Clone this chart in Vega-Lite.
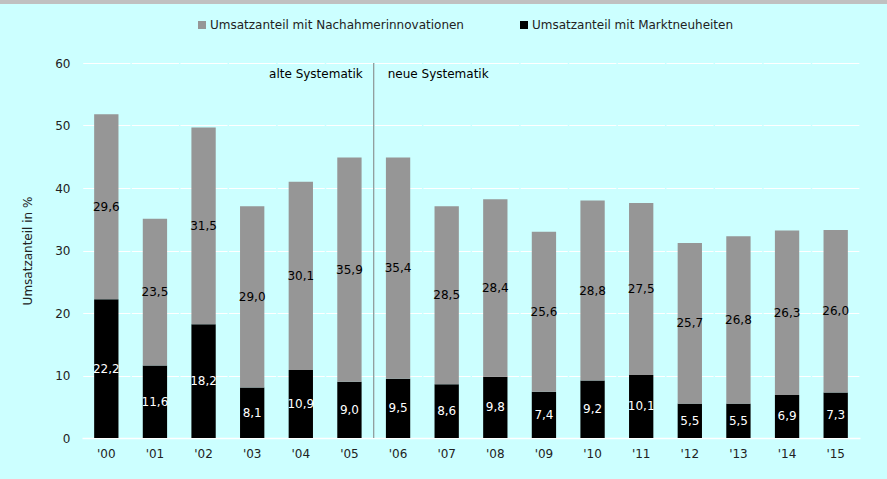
{
  "$schema": "https://vega.github.io/schema/vega-lite/v6.json",
  "width": 778,
  "height": 375,
  "autosize": {"type": "none"},
  "padding": {"left": 82, "top": 63, "right": 27, "bottom": 41},
  "background": "#ccffff",
  "config": {
    "view": {"stroke": null},
    "font": "DejaVu Sans",
    "locale": {"number": {"decimal": ",", "thousands": ".", "grouping": [3], "currency": ["", " €"]}}
  },
  "datasets": {
    "shares": [
      {"year": "'00", "type": "Umsatzanteil mit Marktneuheiten", "value": 22.2},
      {"year": "'00", "type": "Umsatzanteil mit Nachahmerinnovationen", "value": 29.6},
      {"year": "'01", "type": "Umsatzanteil mit Marktneuheiten", "value": 11.6},
      {"year": "'01", "type": "Umsatzanteil mit Nachahmerinnovationen", "value": 23.5},
      {"year": "'02", "type": "Umsatzanteil mit Marktneuheiten", "value": 18.2},
      {"year": "'02", "type": "Umsatzanteil mit Nachahmerinnovationen", "value": 31.5},
      {"year": "'03", "type": "Umsatzanteil mit Marktneuheiten", "value": 8.1},
      {"year": "'03", "type": "Umsatzanteil mit Nachahmerinnovationen", "value": 29.0},
      {"year": "'04", "type": "Umsatzanteil mit Marktneuheiten", "value": 10.9},
      {"year": "'04", "type": "Umsatzanteil mit Nachahmerinnovationen", "value": 30.1},
      {"year": "'05", "type": "Umsatzanteil mit Marktneuheiten", "value": 9.0},
      {"year": "'05", "type": "Umsatzanteil mit Nachahmerinnovationen", "value": 35.9},
      {"year": "'06", "type": "Umsatzanteil mit Marktneuheiten", "value": 9.5},
      {"year": "'06", "type": "Umsatzanteil mit Nachahmerinnovationen", "value": 35.4},
      {"year": "'07", "type": "Umsatzanteil mit Marktneuheiten", "value": 8.6},
      {"year": "'07", "type": "Umsatzanteil mit Nachahmerinnovationen", "value": 28.5},
      {"year": "'08", "type": "Umsatzanteil mit Marktneuheiten", "value": 9.8},
      {"year": "'08", "type": "Umsatzanteil mit Nachahmerinnovationen", "value": 28.4},
      {"year": "'09", "type": "Umsatzanteil mit Marktneuheiten", "value": 7.4},
      {"year": "'09", "type": "Umsatzanteil mit Nachahmerinnovationen", "value": 25.6},
      {"year": "'10", "type": "Umsatzanteil mit Marktneuheiten", "value": 9.2},
      {"year": "'10", "type": "Umsatzanteil mit Nachahmerinnovationen", "value": 28.8},
      {"year": "'11", "type": "Umsatzanteil mit Marktneuheiten", "value": 10.1},
      {"year": "'11", "type": "Umsatzanteil mit Nachahmerinnovationen", "value": 27.5},
      {"year": "'12", "type": "Umsatzanteil mit Marktneuheiten", "value": 5.5},
      {"year": "'12", "type": "Umsatzanteil mit Nachahmerinnovationen", "value": 25.7},
      {"year": "'13", "type": "Umsatzanteil mit Marktneuheiten", "value": 5.5},
      {"year": "'13", "type": "Umsatzanteil mit Nachahmerinnovationen", "value": 26.8},
      {"year": "'14", "type": "Umsatzanteil mit Marktneuheiten", "value": 6.9},
      {"year": "'14", "type": "Umsatzanteil mit Nachahmerinnovationen", "value": 26.3},
      {"year": "'15", "type": "Umsatzanteil mit Marktneuheiten", "value": 7.3},
      {"year": "'15", "type": "Umsatzanteil mit Nachahmerinnovationen", "value": 26.0}
    ],
    "split": [{"pos": 6}]
  },
  "resolve": {"scale": {"x": "independent"}},
  "layer": [
    {
      "data": {"name": "shares"},
      "mark": {"type": "bar"},
      "encoding": {
        "x": {
          "field": "year", "type": "nominal", "sort": null,
          "scale": {"paddingInner": 0.5, "paddingOuter": 0.25},
          "axis": {
            "title": null, "labelAngle": 0, "ticks": false, "domain": true,
            "domainColor": "#ffffff", "domainWidth": 1.5, "labelPadding": 10,
            "labelFont": "DejaVu Sans", "labelFontSize": 12, "labelColor": "#222222"
          }
        },
        "y": {
          "field": "value", "type": "quantitative", "stack": "zero",
          "scale": {"domain": [0, 60]},
          "axis": {
            "title": "Umsatzanteil in %", "titleFont": "DejaVu Sans", "titleFontSize": 12,
            "titleFontWeight": "normal", "titleColor": "#222222", "titlePadding": 20,
            "values": [0, 10, 20, 30, 40, 50, 60], "domain": false, "ticks": false,
            "labelPadding": 12, "labelFontSize": 12, "labelColor": "#222222",
            "grid": true, "gridColor": "#ffffff", "gridWidth": 1.2,
            "gridDash": [47.1, 1.5], "gridDashOffset": -0.75
          }
        },
        "color": {
          "field": "type", "type": "nominal",
          "scale": {
            "domain": ["Umsatzanteil mit Nachahmerinnovationen", "Umsatzanteil mit Marktneuheiten"],
            "range": ["#969696", "#000000"]
          },
          "legend": {
            "title": null, "orient": "none", "direction": "horizontal",
            "legendX": 114, "legendY": -44, "padding": 0,
            "symbolType": "square", "symbolSize": 64, "symbolStrokeWidth": 0,
            "symbolOffset": 0, "labelOffset": 2, "columnPadding": 54, "labelLimit": 500,
            "labelFont": "DejaVu Sans", "labelFontSize": 12, "labelColor": "#222222"
          }
        },
        "order": {"field": "type", "sort": "ascending"}
      }
    },
    {
      "data": {"name": "shares"},
      "mark": {"type": "text", "baseline": "middle", "fontSize": 12, "font": "DejaVu Sans"},
      "encoding": {
        "x": {
          "field": "year", "type": "nominal", "sort": null,
          "scale": {"paddingInner": 0.5, "paddingOuter": 0.25}, "axis": null
        },
        "y": {"field": "value", "type": "quantitative", "stack": "zero", "bandPosition": 0.5},
        "order": {"field": "type", "sort": "ascending"},
        "text": {"field": "value", "type": "quantitative", "format": ".1f"},
        "color": {
          "condition": {"test": "datum.type === 'Umsatzanteil mit Marktneuheiten'", "value": "#ffffff"},
          "value": "#000000"
        }
      }
    },
    {
      "data": {"name": "split"},
      "mark": {"type": "rule", "color": "#7f7f7f", "strokeWidth": 1},
      "encoding": {
        "x": {"field": "pos", "type": "quantitative", "scale": {"domain": [0, 16], "nice": false, "zero": false}, "axis": null},
        "y": {"datum": 60, "type": "quantitative"},
        "y2": {"datum": 0}
      }
    },
    {
      "data": {"name": "split"},
      "mark": {"type": "rect", "color": "#c0c0c0", "clip": false},
      "encoding": {
        "x": {"datum": -1.8, "type": "quantitative", "scale": {"domain": [0, 16], "nice": false, "zero": false}, "axis": null},
        "x2": {"datum": 16.7},
        "y": {"datum": 70.5, "type": "quantitative"},
        "y2": {"datum": 69.45}
      }
    },
    {
      "data": {"values": [{"pos": 6, "t": "alte Systematik"}]},
      "mark": {"type": "text", "align": "right", "baseline": "middle", "dx": -11, "fontSize": 12, "font": "DejaVu Sans", "color": "#000000"},
      "encoding": {
        "x": {"field": "pos", "type": "quantitative", "scale": {"domain": [0, 16], "nice": false, "zero": false}, "axis": null},
        "y": {"datum": 58.2, "type": "quantitative"},
        "text": {"field": "t"}
      }
    },
    {
      "data": {"values": [{"pos": 6, "t": "neue Systematik"}]},
      "mark": {"type": "text", "align": "left", "baseline": "middle", "dx": 14, "fontSize": 12, "font": "DejaVu Sans", "color": "#000000"},
      "encoding": {
        "x": {"field": "pos", "type": "quantitative", "scale": {"domain": [0, 16], "nice": false, "zero": false}, "axis": null},
        "y": {"datum": 58.2, "type": "quantitative"},
        "text": {"field": "t"}
      }
    }
  ]
}
